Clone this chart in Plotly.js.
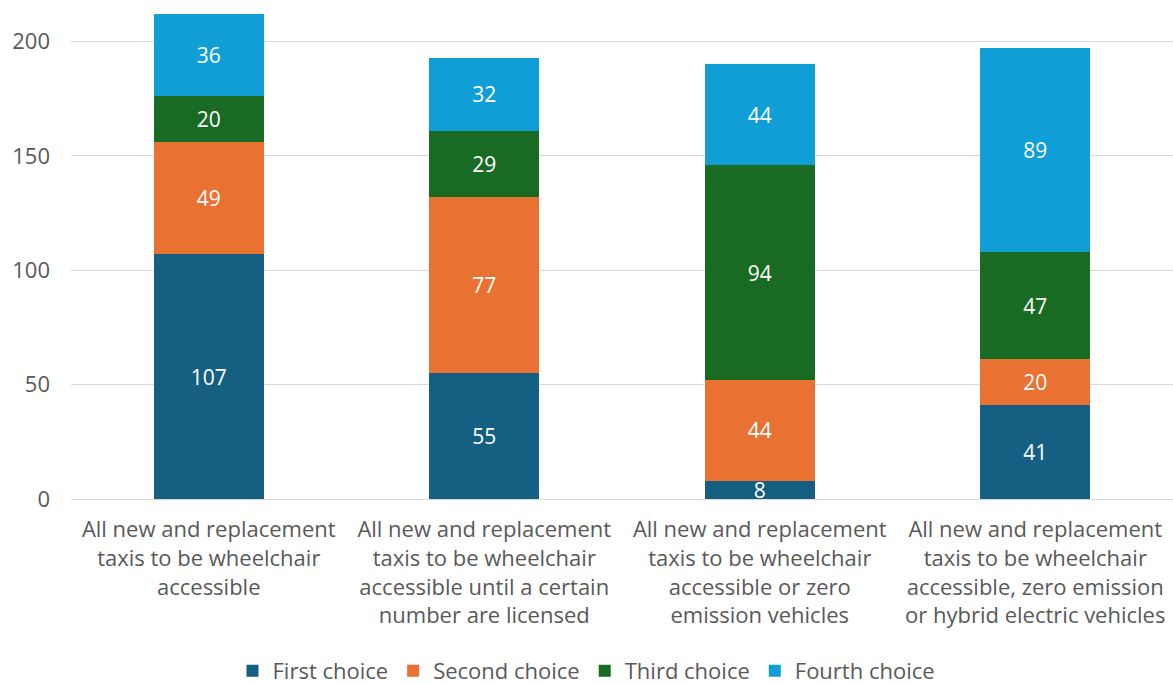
<!DOCTYPE html>
<html>
<head>
<meta charset="utf-8">
<script src="https://cdn.plot.ly/plotly-3.0.1.min.js"></script>
<style>html,body{margin:0;padding:0;background:#fff;}#chart{width:1173px;height:684px;}</style>
</head>
<body>
<div id="chart"></div>
<script>
const categories = [
  "All new and replacement<br>taxis to be wheelchair<br>accessible",
  "All new and replacement<br>taxis to be wheelchair<br>accessible until a certain<br>number are licensed",
  "All new and replacement<br>taxis to be wheelchair<br>accessible or zero<br>emission vehicles",
  "All new and replacement<br>taxis to be wheelchair<br>accessible, zero emission<br>or hybrid electric vehicles"
];
const seriesNames = ["First choice", "Second choice", "Third choice", "Fourth choice"];
const firstChoice = [107, 55, 8, 41];
const secondChoice = [49, 77, 44, 20];
const thirdChoice = [20, 29, 94, 47];
const fourthChoice = [36, 32, 44, 89];
const yTicks = [0, 50, 100, 150, 200];

const colors = ["#156082", "#E97132", "#196B24", "#0F9ED5"];
const values = [firstChoice, secondChoice, thirdChoice, fourthChoice];
const fontFam = "Open Sans, Liberation Sans, sans-serif";

const traces = values.map((v, i) => ({
  type: "bar",
  name: seriesNames[i],
  x: categories,
  y: v,
  text: v.map(String),
  textposition: "inside",
  insidetextanchor: "middle",
  constraintext: "none",
  textangle: 0,
  textfont: {color: "#FFFFFF", size: 21, family: fontFam},
  marker: {color: colors[i], line: {width: 0}},
  hoverinfo: "x+y+name",
  cliponaxis: false
}));

const layout = {
  width: 1173, height: 684,
  barmode: "stack",
  bargap: 0.6,
  paper_bgcolor: "#FFFFFF",
  plot_bgcolor: "#FFFFFF",
  margin: {l: 71, r: 0, t: 13, b: 185},
  font: {family: fontFam, color: "#595959", size: 21},
  xaxis: {
    type: "category",
    automargin: false,
    tickfont: {size: 22, color: "#595959"},
    showgrid: false,
    showline: true,
    linecolor: "#D9D9D9",
    linewidth: 1,
    ticks: "",
    ticklabelstandoff: 11
  },
  yaxis: {
    automargin: false,
    range: [0, 212.5],
    tickvals: yTicks,
    ticktext: yTicks.map(String),
    tickfont: {size: 22, color: "#595959"},
    showgrid: true,
    gridcolor: "#D9D9D9",
    gridwidth: 1,
    zeroline: false,
    showline: false,
    ticks: "",
    ticklabelstandoff: 20
  },
  legend: {
    orientation: "h",
    x: 0.5, xanchor: "center", xref: "container",
    y: 13 / 684, yanchor: "middle", yref: "container",
    font: {size: 22, color: "#595959"},
    traceorder: "normal",
    itemwidth: 30
  },
  showlegend: true
};

Plotly.newPlot("chart", traces, layout, {displayModeBar: false, staticPlot: true});
</script>
</body>
</html>
